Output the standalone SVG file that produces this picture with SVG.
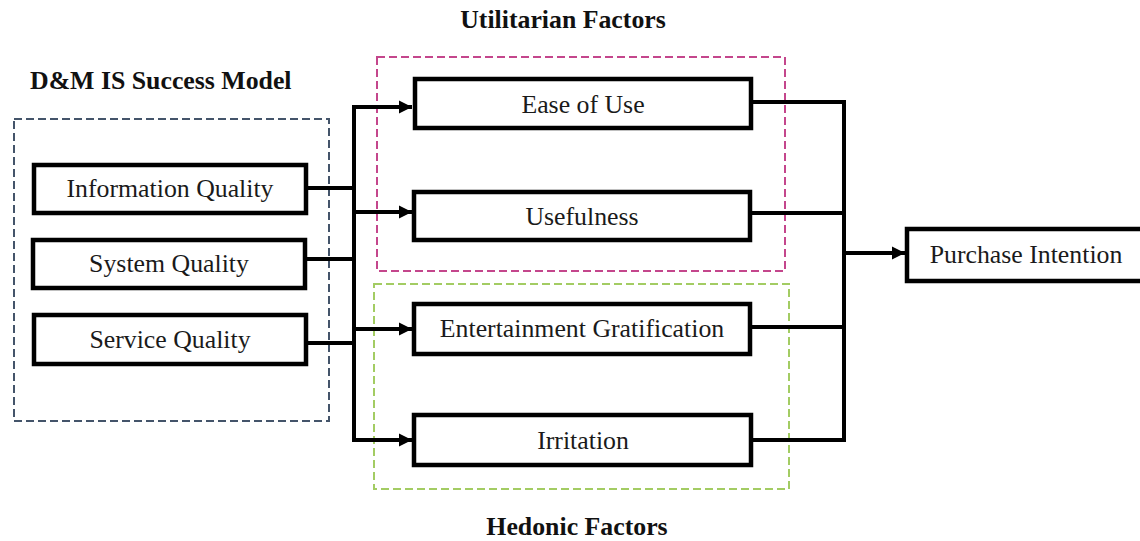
<svg xmlns="http://www.w3.org/2000/svg" width="1140" height="541" viewBox="0 0 1140 541">
<defs>
<style>
.box{fill:#fff;stroke:#000;stroke-width:4.5}
.lbl{font-family:"Liberation Serif","Times New Roman",serif;font-size:25.8px;fill:#1a1a1a;text-anchor:middle}
.ttl{font-family:"Liberation Serif","Times New Roman",serif;font-size:25.8px;font-weight:bold;fill:#111}
.ln{fill:none;stroke:#000;stroke-width:4;stroke-linejoin:miter}
.dash{fill:none;stroke-width:2;stroke-dasharray:8 4}
</style>
<marker id="ah" markerUnits="userSpaceOnUse" markerWidth="14" markerHeight="14" viewBox="0 0 14 14" refX="13" refY="7" orient="auto">
<path d="M0,0.5 L13,7 L0,13.5 Z" fill="#000"/>
</marker>
</defs>
<rect width="1140" height="541" fill="#fff"/>
<g id="groups">
<rect class="dash" x="14" y="119" width="315" height="302" stroke="#44546A"/>
<rect class="dash" x="377" y="57" width="408" height="214" stroke="#C4468C"/>
<rect class="dash" x="374" y="284" width="415" height="205" stroke="#A3CC63"/>
<text class="ttl" x="30" y="89">D&amp;M IS Success Model</text>
<text class="ttl" x="563" y="28" text-anchor="middle">Utilitarian Factors</text>
<text class="ttl" x="577" y="535" text-anchor="middle">Hedonic Factors</text>
</g>
<g id="connectors">
<path class="ln" d="M308,188 H354 M307,259 H354 M308,343 H354 M354,105 V442"/>
<path class="ln" d="M352,107 H412" marker-end="url(#ah)"/>
<path class="ln" d="M354,212 H412" marker-end="url(#ah)"/>
<path class="ln" d="M354,329 H412" marker-end="url(#ah)"/>
<path class="ln" d="M352,440 H412" marker-end="url(#ah)"/>
<path class="ln" d="M753,102 H844 V440 H753 M752,213 H844 M752,327 H844"/>
<path class="ln" d="M844,253 H905" marker-end="url(#ah)"/>
</g>
<g id="n-info"><rect class="box" x="34" y="165" width="272" height="48"/><text class="lbl" x="170" y="197">Information Quality</text></g>
<g id="n-system"><rect class="box" x="33" y="240" width="272" height="48"/><text class="lbl" x="169" y="272">System Quality</text></g>
<g id="n-service"><rect class="box" x="34" y="315" width="272" height="49"/><text class="lbl" x="170" y="348">Service Quality</text></g>
<g id="n-ease"><rect class="box" x="415" y="79" width="336" height="49"/><text class="lbl" x="583" y="113">Ease of Use</text></g>
<g id="n-useful"><rect class="box" x="414" y="192" width="336" height="48"/><text class="lbl" x="582" y="225">Usefulness</text></g>
<g id="n-entertain"><rect class="box" x="414" y="304" width="336" height="50"/><text class="lbl" x="582" y="337">Entertainment Gratification</text></g>
<g id="n-irritation"><rect class="box" x="414" y="415" width="337" height="50"/><text class="lbl" x="583" y="449">Irritation</text></g>
<g id="n-purchase"><rect class="box" x="907" y="229" width="240" height="52"/><text class="lbl" x="1026" y="263">Purchase Intention</text></g>
</svg>
